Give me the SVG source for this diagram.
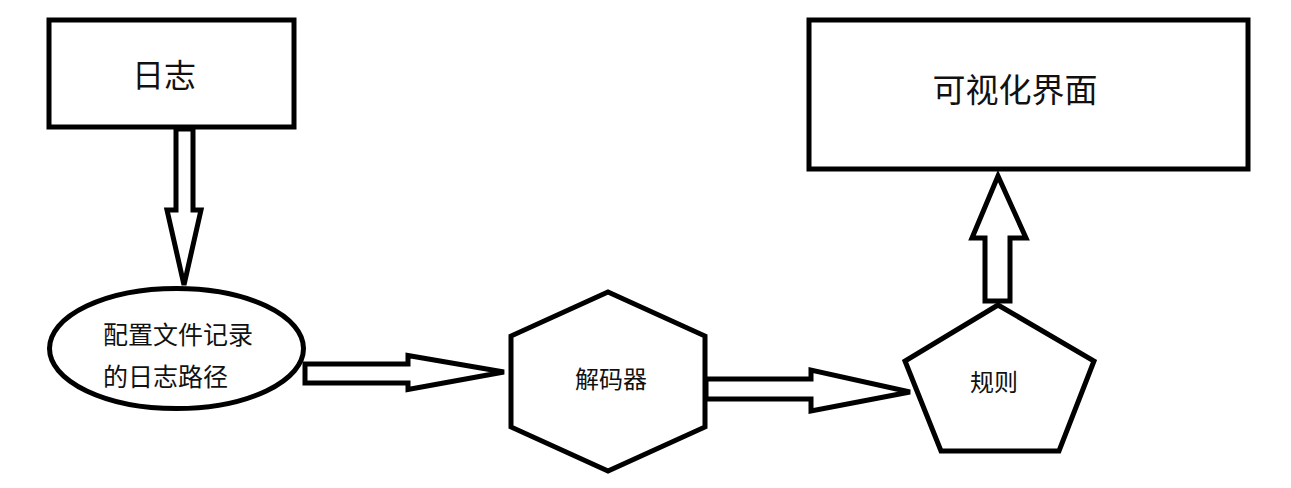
<svg xmlns="http://www.w3.org/2000/svg" width="1291" height="488" viewBox="0 0 1291 488">
<style>
.shape{fill:#fff;stroke:#000;stroke-width:5;stroke-linejoin:miter}
.arrow{fill:#fff;stroke:#000;stroke-width:5;stroke-linejoin:miter}
text{font-family:"Microsoft YaHei","Noto Sans CJK SC",sans-serif;fill:#111}
</style>
<rect width="1291" height="488" fill="#fff"/>
<g id="connectors">
<polygon class="arrow" points="176,129 193,129 193,210 201,210 184,285 167,210 176,210"/>
<polygon class="arrow" points="305,364 408,364 408,355.5 504,372 408,389.5 408,383 305,383"/>
<polygon class="arrow" points="706,379 811,379 811,370 910,392 811,411 811,399 706,399"/>
<polygon class="arrow" points="985,301 985,238 972,238 998,176 1026,238 1010,238 1010,301"/>
</g>
<g id="node-log">
<rect class="shape" x="49" y="20" width="245" height="107"/>
<text x="164" y="73" font-size="32" text-anchor="middle" dominant-baseline="central">日志</text>
</g>
<g id="node-config">
<ellipse class="shape" cx="176.5" cy="348.5" rx="127" ry="60"/>
<text x="103" y="333" font-size="25" dominant-baseline="central">配置文件记录</text>
<text x="103" y="375" font-size="25" dominant-baseline="central">的日志路径</text>
</g>
<g id="node-decoder">
<polygon class="shape" points="608,292 705,336 705,427 608,471 511,427 511,336"/>
<text x="611" y="377" font-size="24" text-anchor="middle" dominant-baseline="central">解码器</text>
</g>
<g id="node-rules">
<polygon class="shape" points="998,305 1094,361 1059,451 941,451 905,361"/>
<text x="994" y="380" font-size="24" text-anchor="middle" dominant-baseline="central">规则</text>
</g>
<g id="node-ui">
<rect class="shape" x="809" y="20" width="439" height="149"/>
<text x="1015" y="88" font-size="33" text-anchor="middle" dominant-baseline="central">可视化界面</text>
</g>
</svg>
